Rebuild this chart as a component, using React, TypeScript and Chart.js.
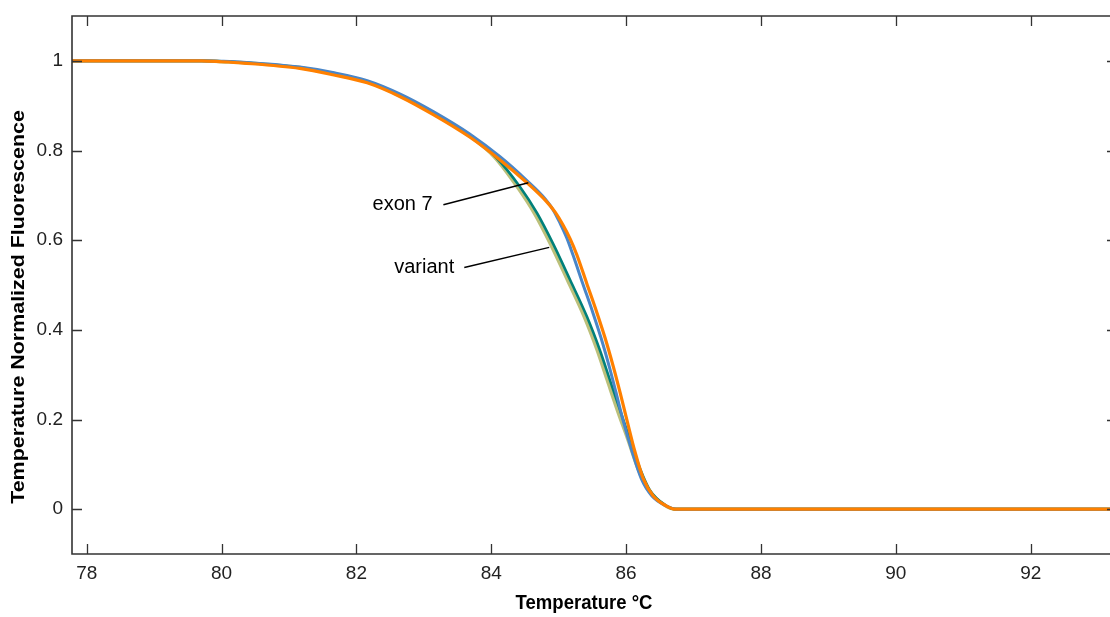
import React, { useEffect, useRef } from "react";
import { Chart, registerables } from "chart.js";

Chart.register(...registerables);

// Temperature (°C) and normalized fluorescence
const exon7aX = [77.78, 79.7, 80.0, 80.32, 81.16, 81.65, 82.16, 82.65, 83.14, 83.68, 84.13, 84.53, 84.82, 84.95, 85.06, 85.17, 85.27, 85.415, 85.563, 85.686, 85.81, 85.909, 86.008, 86.131, 86.255, 86.4, 86.6, 86.74, 93.28];
const exon7aY = [1, 1, 0.998, 0.995, 0.983, 0.969, 0.951, 0.92, 0.88, 0.83, 0.779, 0.728, 0.686, 0.662, 0.635, 0.603, 0.567, 0.504, 0.44, 0.383, 0.318, 0.261, 0.201, 0.128, 0.068, 0.03, 0.007, 0, 0];

const exon7bX = [77.78, 79.7, 80.0, 80.32, 81.16, 81.65, 82.16, 82.65, 83.14, 83.68, 84.13, 84.52, 84.8, 84.92, 85.02, 85.12, 85.21, 85.355, 85.503, 85.626, 85.75, 85.849, 85.95, 86.09, 86.225, 86.38, 86.6, 86.75, 93.28];
const exon7bY = [1, 1, 0.999, 0.997, 0.986, 0.974, 0.956, 0.926, 0.887, 0.837, 0.786, 0.734, 0.692, 0.667, 0.638, 0.605, 0.568, 0.504, 0.44, 0.383, 0.318, 0.261, 0.201, 0.128, 0.068, 0.03, 0.007, 0, 0];

const variantAX = [77.78, 79.7, 80.0, 80.32, 81.16, 81.65, 82.16, 82.65, 83.14, 83.68, 84.07, 84.43, 84.68, 84.92, 85.17, 85.42, 85.61, 85.76, 85.91, 86.06, 86.21, 86.35, 86.58, 86.73, 93.28];
const variantAY = [1, 1, 0.999, 0.996, 0.985, 0.972, 0.954, 0.923, 0.884, 0.833, 0.785, 0.718, 0.66, 0.591, 0.511, 0.429, 0.355, 0.288, 0.221, 0.154, 0.089, 0.043, 0.009, 0, 0];

const variantBX = [77.78, 79.7, 80.0, 80.32, 81.16, 81.65, 82.16, 82.65, 83.14, 83.68, 84.05, 84.39, 84.64, 84.88, 85.13, 85.38, 85.57, 85.72, 85.87, 86.03, 86.18, 86.33, 86.57, 86.72, 93.28];
const variantBY = [1, 1, 0.998, 0.996, 0.985, 0.971, 0.953, 0.922, 0.883, 0.832, 0.785, 0.718, 0.66, 0.591, 0.511, 0.429, 0.355, 0.288, 0.221, 0.154, 0.089, 0.043, 0.009, 0, 0];

const xTickValues = [78, 80, 82, 84, 86, 88, 90, 92];
const yTickValues = [0, 0.2, 0.4, 0.6, 0.8, 1];
const yTickLabels = ["0", "0.2", "0.4", "0.6", "0.8", "1"];

const xTitle = "Temperature °C";
const yTitle = "Temperature Normalized Fluorescence";

// annotation labels: text, anchor (text right edge) and leader-line end on the curve
const annotationTexts = ["exon 7", "variant"];
const annotationAnchorX = [83.13, 83.45];
const annotationAnchorY = [0.679, 0.539];
const annotationLineStartX = [83.29, 83.6];
const annotationLineEndX = [84.55, 84.86];
const annotationLineEndY = [0.728, 0.584];

const toPoints = (xs: number[], ys: number[]) => xs.map((x, i) => ({ x, y: ys[i] }));

const FONT = "'Liberation Sans', Arial, Helvetica, sans-serif";

const framePlugin = {
  id: "matlabFrame",
  afterDraw(chart: any) {
    const { ctx, chartArea } = chart;
    const { left, right, top, bottom } = chartArea;
    const xs = chart.scales.x;
    const ys = chart.scales.y;
    ctx.save();
    // box
    ctx.strokeStyle = "#333333";
    ctx.lineWidth = 1.6;
    ctx.beginPath();
    ctx.rect(left, top, right - left, bottom - top);
    ctx.stroke();
    // inward ticks
    ctx.lineWidth = 1.3;
    ctx.beginPath();
    xTickValues.forEach((v) => {
      const px = Math.round(xs.getPixelForValue(v)) + 0.5;
      ctx.moveTo(px, bottom);
      ctx.lineTo(px, bottom - 10);
      ctx.moveTo(px, top);
      ctx.lineTo(px, top + 10);
    });
    yTickValues.forEach((v) => {
      const py = Math.round(ys.getPixelForValue(v)) + 0.5;
      ctx.moveTo(left, py);
      ctx.lineTo(left + 10, py);
      ctx.moveTo(right, py);
      ctx.lineTo(right - 10, py);
    });
    ctx.stroke();

    // annotations
    ctx.fillStyle = "#000";
    ctx.strokeStyle = "#000";
    ctx.lineWidth = 1.4;
    ctx.font = `20px ${FONT}`;
    ctx.textAlign = "right";
    ctx.textBaseline = "middle";
    annotationTexts.forEach((t, i) => {
      const ax = xs.getPixelForValue(annotationAnchorX[i]);
      const ay = ys.getPixelForValue(annotationAnchorY[i]);
      ctx.fillText(t, ax, ay);
      ctx.beginPath();
      ctx.moveTo(xs.getPixelForValue(annotationLineStartX[i]), ay);
      ctx.lineTo(xs.getPixelForValue(annotationLineEndX[i]), ys.getPixelForValue(annotationLineEndY[i]));
      ctx.stroke();
    });

    // axis titles
    ctx.fillStyle = "#000";
    ctx.font = `bold 18px ${FONT}`;
    ctx.textAlign = "center";
    ctx.textBaseline = "alphabetic";
    ctx.save();
    ctx.translate(left + (right - left) * 0.49, 609);
    ctx.scale(1.03, 1.12);
    ctx.fillText(xTitle, 0, 0);
    ctx.restore();

    ctx.save();
    ctx.translate(24, 307);
    ctx.rotate(-Math.PI / 2);
    ctx.scale(1.19, 1);
    ctx.font = `bold 18px ${FONT}`;
    ctx.fillText(yTitle, 0, 0);
    ctx.restore();
    ctx.restore();
  },
};

export default function App() {
  const canvasRef = useRef<HTMLCanvasElement | null>(null);

  useEffect(() => {
    if (!canvasRef.current) return;
    const chart = new Chart(canvasRef.current, {
      type: "line",
      data: {
        datasets: [
          {
            label: "exon 7 (a)",
            data: toPoints(exon7aX, exon7aY),
            borderColor: "#ff8000",
            borderWidth: 3.2,
            pointRadius: 0,
            cubicInterpolationMode: "monotone",
            fill: false,
          },
          {
            label: "exon 7 (b)",
            data: toPoints(exon7bX, exon7bY),
            borderColor: "#4a86c8",
            borderWidth: 3,
            pointRadius: 0,
            cubicInterpolationMode: "monotone",
            fill: false,
          },
          {
            label: "variant (a)",
            data: toPoints(variantAX, variantAY),
            borderColor: "#00807a",
            borderWidth: 2.6,
            pointRadius: 0,
            cubicInterpolationMode: "monotone",
            fill: false,
          },
          {
            label: "variant (b)",
            data: toPoints(variantBX, variantBY),
            borderColor: "#bcc07a",
            borderWidth: 3.5,
            pointRadius: 0,
            cubicInterpolationMode: "monotone",
            fill: false,
          },
        ],
      },
      options: {
        responsive: false,
        animation: false,
        layout: { padding: { top: 16, right: 1, left: 0, bottom: 0 } },
        plugins: {
          legend: { display: false },
          tooltip: { enabled: false },
          title: { display: false },
        },
        scales: {
          x: {
            type: "linear",
            min: 77.782,
            max: 93.28,
            grid: { display: false },
            border: { display: false },
            afterBuildTicks: (scale: any) => {
              scale.ticks = xTickValues.map((v) => ({ value: v }));
            },
            afterFit: (scale: any) => {
              scale.height = 63;
              scale.paddingLeft = 0;
              scale.paddingRight = 0;
            },
            ticks: {
              autoSkip: false,
              maxRotation: 0,
              padding: 0,
              color: "#222222",
              font: { family: FONT, size: 19 },
              callback: (v: any) => String(v),
            },
          },
          y: {
            type: "linear",
            min: -0.1,
            max: 1.1,
            grid: { display: false },
            border: { display: false },
            afterBuildTicks: (scale: any) => {
              scale.ticks = yTickValues.map((v) => ({ value: v }));
            },
            afterFit: (scale: any) => {
              scale.width = 72;
              scale.paddingTop = 0;
              scale.paddingBottom = 0;
            },
            ticks: {
              autoSkip: false,
              padding: 1,
              color: "#222222",
              font: { family: FONT, size: 19 },
              callback: (v: any) => {
                const i = yTickValues.findIndex((t) => Math.abs(t - Number(v)) < 1e-9);
                return i >= 0 ? yTickLabels[i] : "";
              },
            },
          },
        },
      },
      plugins: [framePlugin],
    } as any);
    return () => chart.destroy();
  }, []);

  return (
    <div style={{ width: 1110, height: 617, overflow: "hidden", background: "#fff" }}>
      <style>{`body{margin:0;overflow:hidden;background:#fff}`}</style>
      <canvas ref={canvasRef} width={1118} height={617} style={{ display: "block" }} />
    </div>
  );
}
